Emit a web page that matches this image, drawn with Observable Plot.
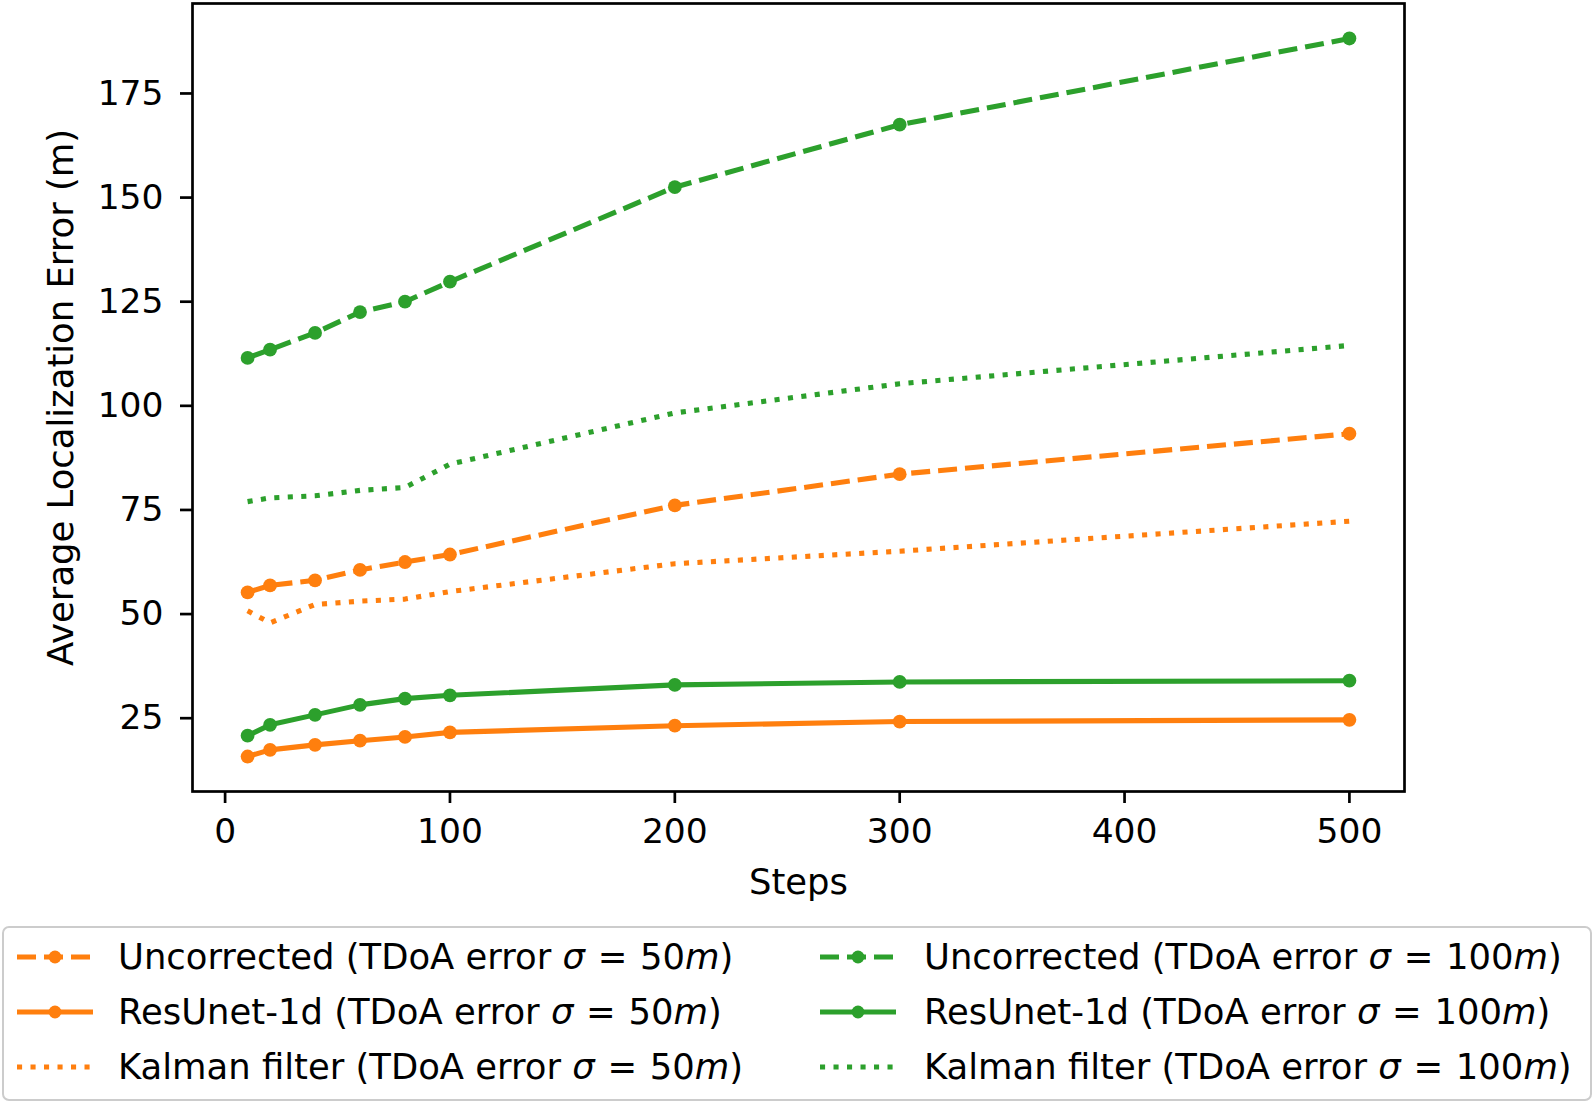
<!DOCTYPE html>
<html>
<head>
<meta charset="utf-8">
<script src="https://cdn.jsdelivr.net/npm/d3@7"></script>
<script src="https://cdn.jsdelivr.net/npm/@observablehq/plot@0.6"></script>
<style>
  html, body { margin: 0; padding: 0; background: white; }
  body { width: 1594px; height: 1103px; position: relative; overflow: hidden; font-family: "DejaVu Sans", sans-serif; }
  #chart { position: absolute; left: 0; top: 0; }
  #legend { position: absolute; left: 2px; top: 926px; width: 1586px; height: 171px; border: 2.5px solid #cccccc; border-radius: 7px; box-sizing: content-box; }
  .item { position: absolute; height: 40px; display: flex; align-items: center; }
  .item svg { display: block; }
  .lbl { position: absolute; height: 40px; line-height: 40px; font-size: 35.4px; color: black; white-space: nowrap; }
  .lbl i { font-style: oblique; }
  .lbl .eq { padding: 0 0.36em; }
</style>
</head>
<body>
<div id="chart"></div>
<div id="legend"></div>
<script>
// ---- data ----
const steps = [10, 20, 40, 60, 80, 100, 200, 300, 500];
const uncorrected50 = [55.2, 56.9, 58.1, 60.6, 62.5, 64.3, 76.1, 83.6, 93.3];
const resunet50 = [15.8, 17.4, 18.6, 19.6, 20.5, 21.6, 23.2, 24.2, 24.6];
const kalman50 = [50.8, 47.9, 52.3, 53.1, 53.6, 55.4, 62.1, 65.1, 72.3];
const uncorrected100 = [111.5, 113.5, 117.5, 122.5, 125.0, 129.8, 152.5, 167.5, 188.2];
const resunet100 = [20.8, 23.4, 25.8, 28.2, 29.7, 30.5, 33.0, 33.7, 34.0];
const kalman100 = [77.0, 77.9, 78.4, 79.7, 80.4, 86.0, 98.3, 105.3, 114.5];

const xTicks = [0, 100, 200, 300, 400, 500];
const yTicks = [25, 50, 75, 100, 125, 150, 175];

const methodNames = ["Uncorrected", "ResUnet-1d", "Kalman filter", "Uncorrected", "ResUnet-1d", "Kalman filter"];
const sigmaValues = [50, 50, 50, 100, 100, 100];
const seriesValues = [uncorrected50, resunet50, kalman50, uncorrected100, resunet100, kalman100];

// styles
const ORANGE = "#ff7f0e", GREEN = "#2ca02c";
const styles = [
  {color: ORANGE, dash: "19,8", marker: true},
  {color: ORANGE, dash: null, marker: true},
  {color: ORANGE, dash: "5.1,8.4", marker: false},
  {color: GREEN, dash: "19,8", marker: true},
  {color: GREEN, dash: null, marker: true},
  {color: GREEN, dash: "5.1,8.4", marker: false}
];

const LW = 5.1, R = 6.9;

const marks = [];
seriesValues.forEach((vals, i) => {
  const rows = steps.map((s, j) => ({step: s, value: vals[j]}));
  const st = styles[i];
  marks.push(Plot.line(rows, {
    x: "step", y: "value", stroke: st.color, strokeWidth: LW,
    strokeDasharray: st.dash || undefined,
    strokeLinecap: st.dash ? "butt" : "square",
    strokeLinejoin: "round"
  }));
  if (st.marker) {
    marks.push(Plot.dot(rows, {x: "step", y: "value", r: R, fill: st.color, stroke: "none"}));
  }
});

const chart = Plot.plot({
  width: 1594,
  height: 912,
  marginTop: 3,
  marginLeft: 192,
  marginRight: 190,
  marginBottom: 121,
  style: {fontFamily: "DejaVu Sans", fontSize: "34px", color: "black", background: "white", overflow: "visible"},
  x: {domain: [-14.5, 524.5]},
  y: {domain: [7.4, 196.6]},
  marks: [
    ...marks,
    Plot.axisX(xTicks, {tickSize: 12, tickPadding: 15, strokeWidth: 2.7, label: null, fontSize: 34.5, tickFormat: d => String(d)}),
    Plot.axisY(yTicks, {tickSize: 12, tickPadding: 17, strokeWidth: 2.7, label: null, fontSize: 34.5, tickFormat: d => String(d)}),
    Plot.text(["Steps"], {frameAnchor: "bottom", lineAnchor: "bottom", dy: 102, fontSize: 35.4, fill: "black"}),
    Plot.text(["Average Localization Error (m)"], {frameAnchor: "left", textAnchor: "middle", rotate: -90, lineAnchor: "bottom", dx: -120, fontSize: 35.4, fill: "black"}),
    Plot.frame({stroke: "black", strokeWidth: 2.7})
  ]
});
document.getElementById("chart").appendChild(chart);

// ---- legend ----
const legend = document.getElementById("legend");
const rowCenters = [29, 84, 139];
const colHandleX = [13, 816];
const colTextX = [114, 920];
methodNames.forEach((name, i) => {
  const col = Math.floor(i / 3), row = i % 3;
  const st = styles[i];
  const item = document.createElement("div");
  item.className = "item";
  item.style.left = colHandleX[col] + "px";
  item.style.top = (rowCenters[row] - 20) + "px";
  const W = 76;
  const svg = d3.create("svg").attr("width", W).attr("height", 40);
  svg.append("line").attr("x1", 0).attr("x2", W).attr("y1", 20).attr("y2", 20)
    .attr("stroke", st.color).attr("stroke-width", LW)
    .attr("stroke-dasharray", st.dash || null).attr("stroke-linecap", "butt");
  if (st.marker) svg.append("circle").attr("cx", W / 2).attr("cy", 20).attr("r", R - 0.5).attr("fill", st.color);
  item.appendChild(svg.node());
  legend.appendChild(item);
  const lbl = document.createElement("div");
  lbl.className = "lbl";
  lbl.style.left = colTextX[col] + "px";
  lbl.style.top = (rowCenters[row] - 20) + "px";
  lbl.innerHTML = `${name} (TDoA error <i>σ</i><span class="eq">=</span>${sigmaValues[i]}<i>m</i>)`;
  legend.appendChild(lbl);
});
</script>
</body>
</html>
